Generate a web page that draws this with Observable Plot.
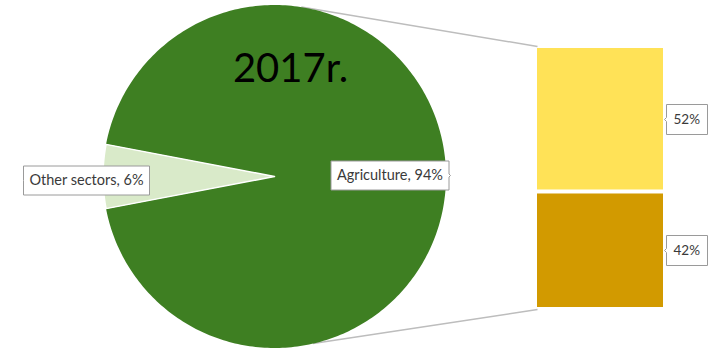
<!DOCTYPE html>
<html>
<head>
<meta charset="utf-8">
<script src="https://cdn.jsdelivr.net/npm/d3@7"></script>
<script src="https://cdn.jsdelivr.net/npm/@observablehq/plot@0.6"></script>
<style>
  html, body { margin: 0; padding: 0; background: #fff; }
  #chart { width: 723px; height: 352px; }
</style>
</head>
<body>
<div id="chart"></div>
<script>
// ---- data ----
const title = "2017r.";
const pieNames = ["Other sectors", "Agriculture"];
const pieValues = [6, 94];
const pieColors = ["#D9EAC9", "#3E7F22"];
const barNames = ["Lower", "Upper"];
const barValues = [42, 52];
const barColors = ["#D29A00", "#FFE257"];

// ---- layout (pixels) ----
const W = 723, H = 352;
const barBottomPx = 309, barTopPx = 46;           // outer edges incl. insets
const total = d3.sum(barValues);
const k = (barBottomPx - barTopPx) / total;      // px per unit
const ux = px => px / k;
const uy = py => (barBottomPx - py) / k;

const cx = ux(274), cy = uy(176), R = 171.5 / k;
const barX1 = ux(537), barX2 = ux(663);

// pie slices: "Other sectors" centred on the left (180°)
const pieTotal = d3.sum(pieValues);
const otherSpan = 360 * pieValues[0] / pieTotal;
const sliceAngles = [
  [180 - otherSpan / 2, 180 + otherSpan / 2],
  [180 + otherSpan / 2, 540 - otherSpan / 2]
];
const slicePts = pieNames.map((name, i) => {
  const [a0, a1] = sliceAngles[i];
  const pts = [{x: cx, y: cy}];
  const n = Math.max(2, Math.ceil(a1 - a0));
  for (let j = 0; j <= n; ++j) {
    const a = (a0 + (a1 - a0) * j / n) * Math.PI / 180;
    pts.push({x: cx + R * Math.cos(a), y: cy + R * Math.sin(a)});
  }
  pts.push({x: cx, y: cy});
  return pts;
});

const bars = barNames.map((n, i) => ({name: n, value: barValues[i], color: barColors[i]}));
const cum = d3.cumsum(barValues);
const barLabels = bars.map((d, i) => ({label: d.value + "%", y: cum[i] - d.value / 2}));

const connectors = [
  {a: 81, y2: total},
  {a: -77, y2: 0}
].map(c => ({
  x1: cx + R * Math.cos(c.a * Math.PI / 180),
  y1: cy + R * Math.sin(c.a * Math.PI / 180),
  x2: barX1, y2: c.y2
}));

const pieLabels = [
  {label: `${pieNames[0]}, ${pieValues[0]}%`, x: ux(23), y: uy(180), anchor: "left"},
  {label: `${pieNames[1]}, ${pieValues[1]}%`, x: ux(450), y: uy(175), anchor: "right"}
];

const font = "Lato, 'Open Sans', sans-serif";
const tipStyle = {fill: "#fff", stroke: "#9A9A9A", pathFilter: "none", fontFamily: font};

const plot = Plot.plot({
  width: W, height: H,
  margin: 0,
  x: {domain: [0, ux(W)], axis: null},
  y: {domain: [uy(H), uy(0)], axis: null},
  color: {type: "identity"},
  style: {background: "#fff", color: "#3A3A3A", fontFamily: font},
  marks: [
    Plot.link(connectors, {x1: "x1", y1: "y1", x2: "x2", y2: "y2", stroke: "#BDBDBD", strokeWidth: 1.5}),
    Plot.line(slicePts[1], {x: "x", y: "y", fill: pieColors[1], stroke: "none"}),
    Plot.line(slicePts[0], {x: "x", y: "y", fill: pieColors[0], stroke: "#fff", strokeWidth: 1.5}),
    Plot.rectY(bars, {x1: barX1, x2: barX2, y: "value", fill: "color", insetTop: 2, insetBottom: 2}),
    Plot.text([title], {x: ux(290), y: uy(69), text: d => d, fontSize: 40, fill: "#000", fontFamily: font}),
    Plot.tip(barLabels, {x: ux(664), y: "y", title: "label", anchor: "left", pointerSize: 4,
      fontSize: 13.5, textPadding: 7, ...tipStyle}),
    Plot.tip(pieLabels.filter(d => d.anchor === "left"), {x: "x", y: "y", title: "label", anchor: "left", pointerSize: 0,
      fontSize: 14.5, textPadding: 6, ...tipStyle}),
    Plot.tip(pieLabels.filter(d => d.anchor === "right"), {x: "x", y: "y", title: "label", anchor: "right", pointerSize: 3,
      fontSize: 14.5, textPadding: 6, ...tipStyle})
  ]
});
document.getElementById("chart").append(plot);
</script>
</body>
</html>
